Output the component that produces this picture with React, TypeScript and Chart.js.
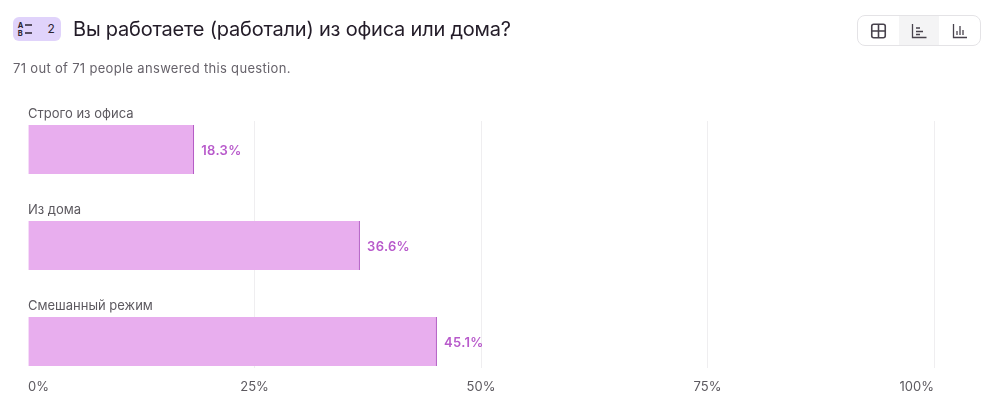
import React, { useEffect, useRef } from "react";
import { Chart, registerables } from "chart.js";

Chart.register(...registerables);

const categories = ["Строго из офиса", "Из дома", "Смешанный режим"];
const percentages = [18.3, 36.6, 45.1];
const tickLabels = ["0%", "25%", "50%", "75%", "100%"];

const FONT = "Inter, 'Noto Sans', sans-serif";
const BAR_LABEL = "#B85ACB";

const overlay = {
  id: "overlay",
  afterDatasetsDraw(chart: any) {
    const { ctx, scales } = chart;
    ctx.save();
    categories.forEach((name, i) => {
      const y = scales.y.getPixelForValue(i);
      ctx.letterSpacing = "0px";
      ctx.font = `400 13px ${FONT}`;
      ctx.fillStyle = "#5c595f";
      ctx.textAlign = "left";
      ctx.textBaseline = "middle";
      ctx.fillText(name, 28, y - 35.5);
      ctx.letterSpacing = "0.3px";
      ctx.font = `600 13px ${FONT}`;
      ctx.fillStyle = BAR_LABEL;
      ctx.fillText(`${percentages[i]}%`, scales.x.getPixelForValue(percentages[i]) + 7.5, y + 1.5);
    });
    ctx.restore();
  },
};

export default function App() {
  const ref = useRef<HTMLCanvasElement>(null);
  useEffect(() => {
    const chart = new Chart(ref.current!, {
      type: "bar",
      data: {
        datasets: [
          {
            data: percentages.map((v, i) => ({ x: v, y: i })),
            backgroundColor: "#E8AEEE",
            borderColor: "#AE52C0",
            borderWidth: { right: 1, left: 0, top: 0, bottom: 0 },
            barThickness: 49,
          },
        ],
      },
      options: {
        indexAxis: "y",
        responsive: false,
        animation: false,
        events: [],
        layout: { padding: { left: 28, right: 69, top: 121, bottom: 0 } },
        plugins: { legend: { display: false }, tooltip: { enabled: false } },
        scales: {
          x: {
            type: "linear",
            min: 0,
            max: 100,
            afterFit(scale: any) {
              scale.height = 49;
            },
            afterBuildTicks(scale: any) {
              scale.ticks = tickLabels.map((_, i) => ({ value: i * 25 }));
            },
            grid: {
              color: (c: any) => (c.tick && c.tick.value === 0 ? "rgba(0,0,0,0)" : "#EFEEF0"),
              drawTicks: false,
            },
            border: { display: false },
            ticks: {
              align: "inner",
              maxRotation: 0,
              padding: 11,
              color: "#5c595f",
              font: { family: FONT, size: 13 },
              callback: (_v: any, i: number) => tickLabels[i],
            },
          },
          y: {
            type: "linear",
            display: false,
            reverse: true,
            offset: false,
            min: -0.297,
            max: 2.276,
            grid: { display: false, offset: false },
          },
        },
      },
      plugins: [overlay],
    } as any);
    return () => chart.destroy();
  }, []);

  const iconStroke = "#47424c";
  return (
    <div style={{ position: "absolute", left: 0, top: 0, width: 1003, height: 417, background: "#fff", fontFamily: FONT, overflow: "hidden" }}>
      <canvas ref={ref} width={1003} height={417} style={{ position: "absolute", left: 0, top: 0, display: "block" }} />
      <div style={{ position: "absolute", left: 13, top: 17, width: 48, height: 24, borderRadius: 6, background: "#E0D3FB" }}>
        <svg width="20" height="16" style={{ position: "absolute", left: 4, top: 5 }} viewBox="0 0 20 16">
          <path d="M8 3h7M8 11h7" stroke="#2b2430" strokeWidth="1.5" />
          <text x="0.8" y="5.8" fontSize="7.5" fontWeight="700" fontFamily={FONT} fill="#2b2430">A</text>
          <text x="0.8" y="13.8" fontSize="7.5" fontWeight="700" fontFamily={FONT} fill="#2b2430">B</text>
        </svg>
        <span style={{ position: "absolute", left: 34.5, top: 4, fontSize: 12, lineHeight: "16px", color: "#2b2430" }}>2</span>
      </div>
      <div style={{ position: "absolute", left: 73, top: 16, fontSize: 20, lineHeight: "26px", letterSpacing: "-0.21px", color: "#231c28", whiteSpace: "nowrap" }}>
        Вы работаете (работали) из офиса или дома?
      </div>
      <div style={{ position: "absolute", left: 13, top: 60, fontSize: 13, lineHeight: "17px", letterSpacing: "0.32px", color: "#66626a", whiteSpace: "nowrap" }}>
        71 out of 71 people answered this question.
      </div>
      <div style={{ position: "absolute", left: 857, top: 15, width: 122, height: 29, border: "1px solid #E4E3E6", borderRadius: 8, overflow: "hidden" }}>
        <div style={{ position: "absolute", left: 41, top: 0, width: 40, height: 29, background: "#F4F4F5" }} />
        <svg width="122" height="30" style={{ position: "absolute", left: 0, top: 0 }} fill="none" stroke={iconStroke}>
          <g strokeWidth="1.6">
            <rect x="13.75" y="8.25" width="13.5" height="13.5" rx="2" />
            <path d="M20.5 8.5v13M14 15h13" />
          </g>
          <g strokeWidth="1.3">
            <path d="M54.5 8v13.5H68.5" />
            <path d="M58 12h4M58 15.5h7M58 18.5h4" />
          </g>
          <g strokeWidth="1.3">
            <path d="M95.5 8v13.5h13.5" />
            <path d="M99 19v-4M102 19V10M105 19v-5" />
          </g>
        </svg>
      </div>
    </div>
  );
}
